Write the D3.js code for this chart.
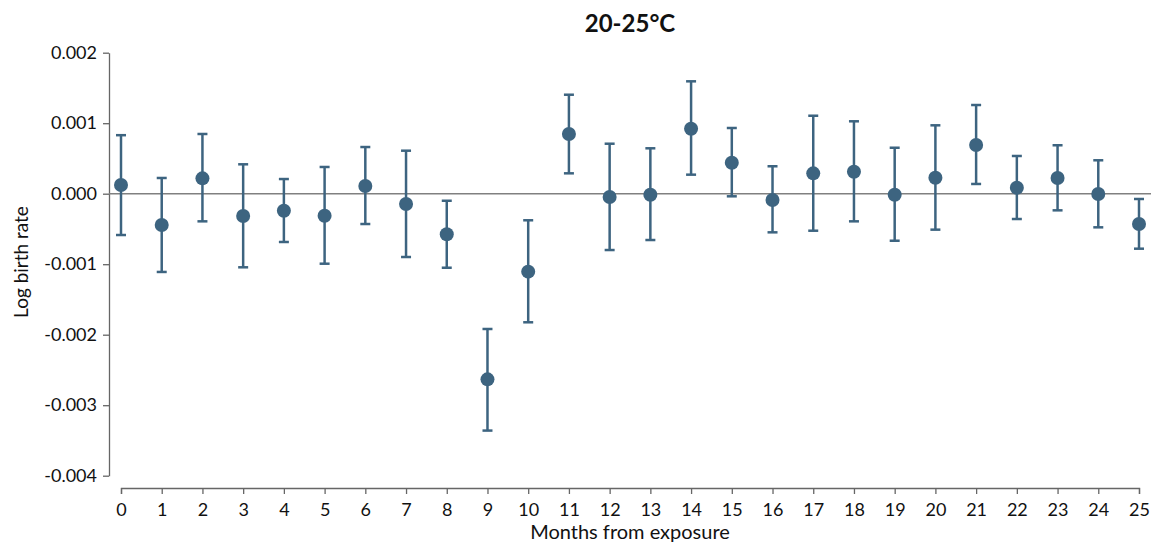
<!DOCTYPE html>
<html><head><meta charset="utf-8">
<script src="https://cdn.jsdelivr.net/npm/d3@7"></script>
<style>
body{margin:0;background:#fff;}
text{font-family:"Lato","Open Sans",sans-serif;fill:#111;}
</style></head>
<body><svg id="chart" width="1157" height="547"></svg>
<script>
const months = [0,1,2,3,4,5,6,7,8,9,10,11,12,13,14,15,16,17,18,19,20,21,22,23,24,25];
const estimate = [0.000123,-0.000444,0.000218,-0.000316,-0.000241,-0.000312,0.000109,-0.000146,-0.000576,-0.002633,-0.001106,0.000847,-0.000047,-0.000014,0.000922,0.00044,-0.00009,0.000289,0.000312,-0.000014,0.000227,0.000691,0.000085,0.000223,-0.000004,-0.00043];
const upper = [0.00083,0.000223,0.000847,0.000417,0.000208,0.000379,0.000662,0.00061,-0.0001,-0.001919,-0.000377,0.001404,0.000709,0.000644,0.001594,0.000932,0.000389,0.001106,0.001027,0.000652,0.00097,0.001258,0.000535,0.000687,0.000474,-0.000075];
const lower = [-0.000586,-0.00111,-0.000392,-0.001044,-0.000685,-0.000993,-0.00043,-0.000898,-0.00105,-0.00336,-0.001824,0.000289,-0.000799,-0.000657,0.00027,-0.000037,-0.000548,-0.000525,-0.000392,-0.000667,-0.00051,0.000138,-0.000359,-0.000236,-0.000477,-0.00078];
const yTicks = [0.002,0.001,0,-0.001,-0.002,-0.003,-0.004];
const title = "20-25°C";
const xTitle = "Months from exposure";
const yTitle = "Log birth rate";

const svg = d3.select("#chart");
const color = "#3d6480";
const x = d3.scaleLinear().domain([0,25]).range([121,1139]);
const y = d3.scaleLinear().domain([-0.004,0.002]).range([475.7,52.7]);
const fmtY = d => d3.format(".3f")(d).replace("\u2212","-");

// title
svg.append("text").attr("x",630).attr("y",32).attr("text-anchor","middle")
  .style("font-size","24px").style("font-weight","bold").text(title);

// y axis
const yAxis = svg.append("g").attr("transform","translate(109,0)")
  .call(d3.axisLeft(y).tickValues(yTicks).tickFormat(fmtY).tickSize(6).tickSizeOuter(0).tickPadding(6));
yAxis.selectAll("text").style("font-size","18px").style("font-family","Lato, sans-serif").attr("fill","#111");
yAxis.selectAll("path,line").attr("stroke","#666").attr("stroke-width",1.3);

// x axis
const xAxis = svg.append("g").attr("transform","translate(0,488)")
  .call(d3.axisBottom(x).tickValues(months).tickFormat(d3.format("d")).tickSize(6).tickSizeOuter(6).tickPadding(9));
xAxis.selectAll("text").style("font-size","18px").style("font-family","Lato, sans-serif").attr("fill","#111");
xAxis.selectAll("path,line").attr("stroke","#666").attr("stroke-width",1.3);

// zero line
svg.append("line").attr("x1",109).attr("x2",1151).attr("y1",y(0)).attr("y2",y(0))
  .attr("stroke","#808080").attr("stroke-width",1.5);

// axis titles
svg.append("text").attr("x",630).attr("y",539).attr("text-anchor","middle")
  .style("font-size","20px").text(xTitle);
svg.append("text").attr("transform","translate(28,262) rotate(-90)").attr("text-anchor","middle")
  .style("font-size","19px").text(yTitle);

// error bars
const data = months.map((m,i)=>({m, e:estimate[i], lo:lower[i], hi:upper[i]}));
const g = svg.append("g");
g.selectAll("line.bar").data(data).join("line").attr("class","bar")
  .attr("x1",d=>x(d.m)).attr("x2",d=>x(d.m)).attr("y1",d=>y(d.hi)).attr("y2",d=>y(d.lo))
  .attr("stroke",color).attr("stroke-width",2.5);
g.selectAll("line.capt").data(data).join("line").attr("class","capt")
  .attr("x1",d=>x(d.m)-5).attr("x2",d=>x(d.m)+5).attr("y1",d=>y(d.hi)).attr("y2",d=>y(d.hi))
  .attr("stroke",color).attr("stroke-width",2.5);
g.selectAll("line.capb").data(data).join("line").attr("class","capb")
  .attr("x1",d=>x(d.m)-5).attr("x2",d=>x(d.m)+5).attr("y1",d=>y(d.lo)).attr("y2",d=>y(d.lo))
  .attr("stroke",color).attr("stroke-width",2.5);
g.selectAll("circle").data(data).join("circle")
  .attr("cx",d=>x(d.m)).attr("cy",d=>y(d.e)).attr("r",7).attr("fill",color);
</script></body></html>
